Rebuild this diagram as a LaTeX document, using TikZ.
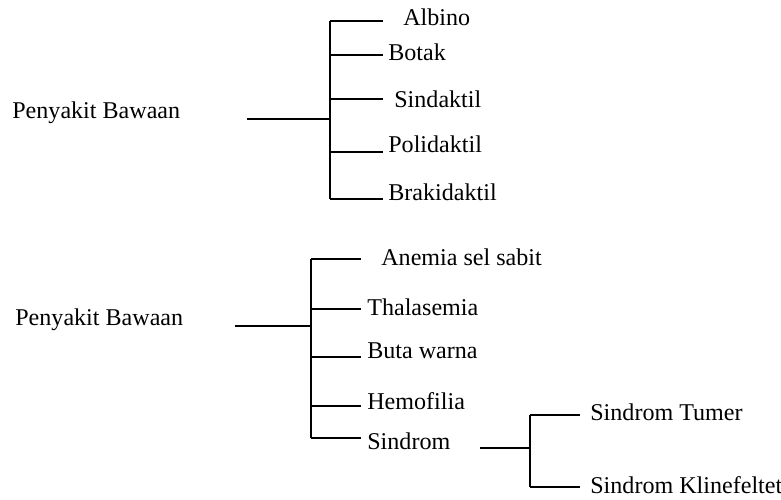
\documentclass[tikz,border=0pt]{standalone}
\usepackage{fontspec}
\setmainfont{Liberation Serif}
\usetikzlibrary{positioning}

\begin{document}
\begin{tikzpicture}
\tikzstyle{leaf}=[anchor=west,inner sep=0pt,font=\fontsize{13.7}{16}\selectfont]
\tikzstyle{branch}=[line width=1.1pt]

\useasboundingbox (0,0) rectangle (15.62,10);

% first tree
\node (root1) [leaf] at (0.24, 7.74) {Penyakit Bawaan};
\coordinate (r1) at (4.94, 7.62);
\coordinate (j1) at (6.6, 7.62);
\draw [branch] (r1) -- (j1);
\draw [branch] (6.6, 9.58) -- (6.6, 6.02);

\node (albino) [leaf] at (8.06, 9.66) {Albino};
\node (botak) [leaf] at (7.76, 8.96) {Botak};
\node (sindaktil) [leaf] at (7.88, 8.02) {Sindaktil};
\node (polidaktil) [leaf] at (7.76, 7.12) {Polidaktil};
\node (brakidaktil) [leaf] at (7.76, 6.16) {Brakidaktil};

\draw [branch] (6.6, 9.58) -- (7.66, 9.58);
\draw [branch] (6.6, 8.9) -- (7.66, 8.9);
\draw [branch] (6.6, 8.02) -- (7.66, 8.02);
\draw [branch] (6.6, 6.96) -- (7.66, 6.96);
\draw [branch] (6.6, 6.02) -- (7.66, 6.02);

% second tree
\node (root2) [leaf] at (0.30, 3.6) {Penyakit Bawaan};
\coordinate (r2) at (4.7, 3.48);
\coordinate (j2) at (6.22, 3.48);
\draw [branch] (r2) -- (j2);
\draw [branch] (6.22, 4.82) -- (6.22, 1.24);

\node (anemia) [leaf] at (7.62, 4.86) {Anemia sel sabit};
\node (thalasemia) [leaf] at (7.34, 3.86) {Thalasemia};
\node (butawarna) [leaf] at (7.34, 2.98) {Buta warna};
\node (hemofilia) [leaf] at (7.34, 1.98) {Hemofilia};
\node (sindrom) [leaf] at (7.34, 1.18) {Sindrom};

\draw [branch] (6.22, 4.82) -- (7.22, 4.82);
\draw [branch] (6.22, 3.82) -- (7.22, 3.82);
\draw [branch] (6.22, 2.86) -- (7.22, 2.86);
\draw [branch] (6.22, 1.88) -- (7.22, 1.88);
\draw [branch] (6.22, 1.24) -- (7.22, 1.24);

% sindrom split
\coordinate (r3) at (9.6, 1.04);
\coordinate (j3) at (10.6, 1.04);
\draw [branch] (r3) -- (j3);
\draw [branch] (10.6, 1.7) -- (10.6, 0.26);

\node (tumer) [leaf] at (11.8, 1.76) {Sindrom Tumer};
\node (klinefeltet) [leaf] at (11.8, 0.30) {Sindrom Klinefeltet};

\draw [branch] (10.6, 1.7) -- (11.6, 1.7);
\draw [branch] (10.6, 0.26) -- (11.6, 0.26);

\end{tikzpicture}
\end{document}
